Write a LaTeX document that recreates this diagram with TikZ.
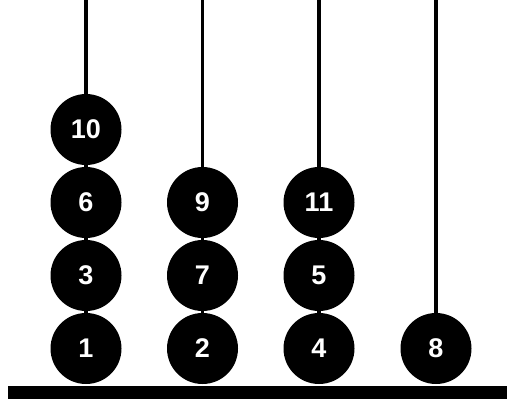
\documentclass[tikz,border=0pt]{standalone}
\usepackage{fontspec}
\setmainfont{Liberation Sans}
\usetikzlibrary{positioning}

\begin{document}
\begin{tikzpicture}[x=1pt, y=-1pt,
    ball/.style={circle, fill=black, minimum size=71pt, inner sep=0pt, text=white, font=\bfseries\fontsize{27}{27}\selectfont},
    rod/.style={line width=3.5pt}]
\useasboundingbox (0,0) rectangle (507,402);
% Rod tops
\coordinate (t1) at (86,0);
\coordinate (t2) at (202.5,0);
\coordinate (t3) at (319,0);
\coordinate (t4) at (436,0);
% Rods
\draw[rod] (t1) -- (86,348.5);
\draw[rod] (t2) -- (202.5,348.5);
\draw[rod] (t3) -- (319,348.5);
\draw[rod] (t4) -- (436,348.5);
% Base
\fill (8,386) rectangle (507,399);
% Balls
\node[ball] (b1) at (86,348.5) {1};
\node[ball] (b3) at (86,275.5) {3};
\node[ball] (b6) at (86,202.5) {6};
\node[ball] (b10) at (86,129.5) {10};
\node[ball] (b2) at (202.5,348.5) {2};
\node[ball] (b7) at (202.5,275.5) {7};
\node[ball] (b9) at (202.5,202.5) {9};
\node[ball] (b4) at (319,348.5) {4};
\node[ball] (b5) at (319,275.5) {5};
\node[ball] (b11) at (319,202.5) {11};
\node[ball] (b8) at (436,348.5) {8};
\end{tikzpicture}
\end{document}
